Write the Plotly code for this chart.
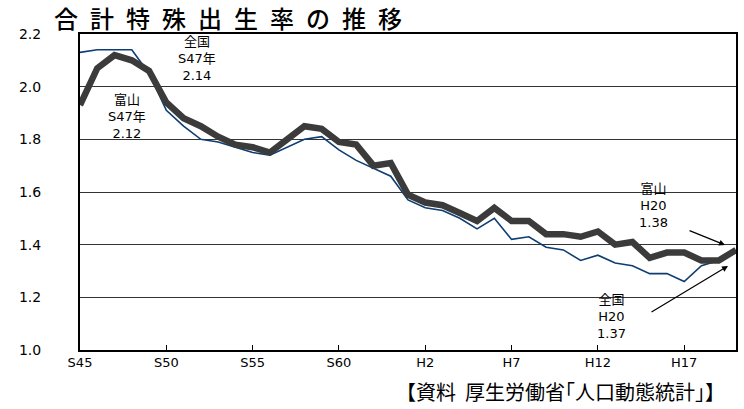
import plotly.graph_objects as go

years = list(range(1970, 2009))
zenkoku = [2.13, 2.14, 2.14, 2.14, 2.05, 1.91, 1.85, 1.80, 1.79, 1.77,
           1.75, 1.74, 1.77, 1.80, 1.81, 1.76, 1.72, 1.69, 1.66, 1.57,
           1.54, 1.53, 1.50, 1.46, 1.50, 1.42, 1.43, 1.39, 1.38, 1.34,
           1.36, 1.33, 1.32, 1.29, 1.29, 1.26, 1.32, 1.34, 1.37]
toyama = [1.93, 2.07, 2.12, 2.10, 2.06, 1.94, 1.88, 1.85, 1.81, 1.78,
          1.77, 1.75, 1.80, 1.85, 1.84, 1.79, 1.78, 1.70, 1.71, 1.59,
          1.56, 1.55, 1.52, 1.49, 1.54, 1.49, 1.49, 1.44, 1.44, 1.43,
          1.45, 1.40, 1.41, 1.35, 1.37, 1.37, 1.34, 1.34, 1.38]
tick_years = [1970, 1975, 1980, 1985, 1990, 1995, 2000, 2005]
tick_labels = ["S45", "S50", "S55", "S60", "H2", "H7", "H12", "H17"]
title_text = "合計特殊出生率の推移"
source_text = "【資料  厚生労働省｢人口動態統計｣】"

W, H = 744, 409
L, R, T, B = 80, 6, 34, 59
PW, PH = W - L - R, H - T - B

def px(x):
    return (x - L) / PW

def py(y):
    return (H - B - y) / PH

LAT = "DejaVu Sans, Noto Sans CJK JP, sans-serif"
CJK = "Noto Sans CJK JP, DejaVu Sans, sans-serif"

fig = go.Figure()
fig.add_trace(go.Scatter(x=years, y=zenkoku, mode="lines", name="全国",
                         line=dict(color="#0d3d72", width=1.6)))
fig.add_trace(go.Scatter(x=years, y=toyama, mode="lines", name="富山",
                         line=dict(color="#3b3b3b", width=6.5)))

annos = []
def label(lines, cx, cy, size=13):
    annos.append(dict(text="<br>".join(lines), x=px(cx), y=py(cy), xref="paper", yref="paper",
                      xanchor="center", yanchor="middle", showarrow=False, align="center",
                      font=dict(family=LAT, size=size, color="black")))

label(["全国", "S47年", "2.14"], 197, 59)
label(["富山", "S47年", "2.12"], 127, 116)
label(["富山", "H20", "1.38"], 655, 205)
label(["全国", "H20", "1.37"], 613, 316)

# arrows
annos.append(dict(text="", x=px(727), y=py(245), xref="paper", yref="paper",
                  ax=-37, ay=-15, showarrow=True, arrowhead=2, arrowsize=1,
                  arrowwidth=1.2, arrowcolor="black"))
annos.append(dict(text="", x=px(730), y=py(266), xref="paper", yref="paper",
                  ax=-78, ay=47, showarrow=True, arrowhead=2, arrowsize=1,
                  arrowwidth=1.2, arrowcolor="black"))

annos.append(dict(text="\u2002".join(title_text), x=px(52), y=py(18), xref="paper", yref="paper",
                  xanchor="left", yanchor="middle", showarrow=False,
                  font=dict(family=CJK, size=24, color="black", weight=500)))
annos.append(dict(text=source_text, x=px(729), y=py(391), xref="paper", yref="paper",
                  xanchor="right", yanchor="middle", showarrow=False,
                  font=dict(family=CJK, size=20, color="black")))

fig.update_layout(
    width=W, height=H,
    margin=dict(l=L, r=R, t=T, b=B, pad=0),
    paper_bgcolor="white", plot_bgcolor="white",
    showlegend=False,
    annotations=annos,
    xaxis=dict(range=[1970, 2008], tickvals=tick_years, ticktext=tick_labels,
               ticks="inside", ticklen=5, tickcolor="black", tickwidth=1,
               showgrid=False, zeroline=False,
               showline=True, linecolor="black", linewidth=1.5, mirror=True,
               tickfont=dict(family=LAT, size=13, color="black")),
    yaxis=dict(range=[1.0, 2.2], dtick=0.2, tick0=1.0, tickformat=".1f",
               showgrid=True, gridcolor="#333333", gridwidth=1,
               zeroline=False, ticks="",
               showline=True, linecolor="black", linewidth=2, mirror=True,
               ticklabelstandoff=34,
               tickfont=dict(family=LAT, size=14, color="black")),
)

fig.write_html("out.html", config={"displayModeBar": False},
               post_script="document.body.style.margin='0';document.body.style.padding='0';")
